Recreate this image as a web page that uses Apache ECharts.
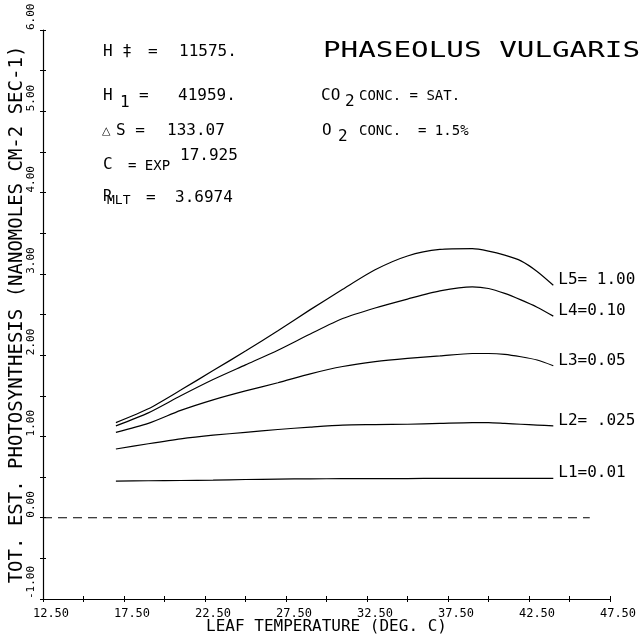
<!DOCTYPE html>
<html>
<head>
<meta charset="utf-8">
<script src="https://cdn.jsdelivr.net/npm/echarts@6/dist/echarts.min.js"></script>
<style>
  html, body { margin: 0; padding: 0; background: #fff; }
  #chart { width: 642px; height: 634px; }
</style>
</head>
<body>
<div id="chart"></div>
<script>
// ---- data ----
const temps = [17, 19, 21, 23, 25, 27, 29, 31, 33, 35, 37, 39, 40, 41, 42, 43, 44];
const L1 = [0.45, 0.455, 0.458, 0.463, 0.47, 0.475, 0.478, 0.48, 0.48, 0.482, 0.485, 0.485, 0.485, 0.485, 0.485, 0.485, 0.485];
const L2 = [0.845, 0.91, 0.97, 1.015, 1.05, 1.085, 1.115, 1.14, 1.145, 1.15, 1.16, 1.17, 1.17, 1.16, 1.15, 1.14, 1.13];
const L3 = [1.05, 1.16, 1.32, 1.45, 1.56, 1.66, 1.77, 1.86, 1.92, 1.96, 1.99, 2.02, 2.02, 2.01, 1.98, 1.94, 1.87];
const L4 = [1.13, 1.29, 1.50, 1.70, 1.88, 2.06, 2.26, 2.45, 2.58, 2.69, 2.79, 2.84, 2.82, 2.76, 2.68, 2.59, 2.48];
const L5 = [1.17, 1.34, 1.57, 1.81, 2.05, 2.30, 2.56, 2.81, 3.05, 3.22, 3.30, 3.31, 3.28, 3.23, 3.16, 3.03, 2.86];
const seriesNames = ['L1=0.01', 'L2= .025', 'L3=0.05', 'L4=0.10', 'L5= 1.00'];
const zeroX = [12.5, 46.25];
const zeroY = [0, 0];
const xTickValues = [12.5, 17.5, 22.5, 27.5, 32.5, 37.5, 42.5, 47.5];
const xTickLabels = ['12.50', '17.50', '22.50', '27.50', '32.50', '37.50', '42.50', '47.50'];
const yTickValues = [-1, 0, 1, 2, 3, 4, 5, 6];
const yTickLabels = ['-1.00', '0.00', '1.00', '2.00', '3.00', '4.00', '5.00', '6.00'];

const MONO = '"DejaVu Sans Mono", "Liberation Mono", monospace';

function pairs(xs, ys) { return xs.map((x, i) => [x, ys[i]]); }
function lookup(vals, labels, v) {
  for (let i = 0; i < vals.length; i++) if (Math.abs(vals[i] - v) < 1e-6) return labels[i];
  return '';
}

const chart = echarts.init(document.getElementById('chart'), null, { renderer: 'canvas' });

const gridBox = { left: 43, right: 32, top: 30, bottom: 35, outerBoundsMode: 'none', containLabel: false };

const lineSeries = [L1, L2, L3, L4, L5].map((vals, i) => ({
  type: 'line',
  name: seriesNames[i],
  xAxisIndex: 0, yAxisIndex: 0,
  data: pairs(temps, vals),
  showSymbol: false,
  smooth: 0.25,
  silent: true,
  lineStyle: { color: '#000', width: 1.2 },
  endLabel: {
    show: true,
    formatter: seriesNames[i],
    color: '#000',
    fontFamily: MONO,
    fontSize: 16,
    distance: 5,
    offset: [0, -5]
  }
}));

const T = (left, top, text, size, extra) => Object.assign(
  { type: 'text', left: left, top: top, style: { text: text, font: size + 'px ' + MONO, fill: '#000' } },
  extra || {}
);

const option = {
  backgroundColor: '#fff',
  animation: false,
  grid: [
    Object.assign({}, gridBox),
    Object.assign({}, gridBox)
  ],
  xAxis: [
    {
      type: 'value', gridIndex: 0, min: 12.5, max: 47.5, interval: 2.5,
      name: 'LEAF TEMPERATURE (DEG. C)', nameLocation: 'middle', nameGap: 20,
      nameMoveOverlap: false,
      nameTextStyle: { color: '#000', fontFamily: MONO, fontSize: 16 },
      axisLine: { show: true, onZero: false, lineStyle: { color: '#000', width: 1.2 } },
      axisTick: { show: true, inside: false, length: 3, lineStyle: { color: '#000' } },
      axisLabel: {
        color: '#000', fontFamily: MONO, fontSize: 12, margin: 9,
        padding: [0, 0, 0, 16],
        showMinLabel: true, showMaxLabel: true, hideOverlap: false,
        formatter: v => lookup(xTickValues, xTickLabels, v)
      },
      splitLine: { show: false }
    },
    {
      type: 'value', gridIndex: 1, min: 12.5, max: 47.5, interval: 2.5, position: 'bottom',
      axisLine: { show: false, onZero: false },
      axisTick: { show: true, inside: true, length: 3, lineStyle: { color: '#000' } },
      axisLabel: { show: false },
      splitLine: { show: false }
    }
  ],
  yAxis: [
    {
      type: 'value', gridIndex: 0, min: -1, max: 6, interval: 0.5,
      name: 'TOT. EST. PHOTOSYNTHESIS (NANOMOLES CM-2 SEC-1)',
      nameLocation: 'middle', nameRotate: 90, nameGap: 16,
      nameMoveOverlap: false,
      nameTextStyle: { color: '#000', fontFamily: MONO, fontSize: 19 },
      axisLine: { show: true, onZero: false, lineStyle: { color: '#000', width: 1.2 } },
      axisTick: { show: true, inside: false, length: 3, lineStyle: { color: '#000' } },
      axisLabel: {
        color: '#000', fontFamily: MONO, fontSize: 11, margin: 6,
        rotate: 90, align: 'left', verticalAlign: 'bottom',
        showMinLabel: true, showMaxLabel: true, hideOverlap: false,
        formatter: v => lookup(yTickValues, yTickLabels, v)
      },
      splitLine: { show: false }
    },
    {
      type: 'value', gridIndex: 1, min: -1, max: 6, interval: 0.5, position: 'left',
      axisLine: { show: false, onZero: false },
      axisTick: { show: true, inside: true, length: 3, lineStyle: { color: '#000' } },
      axisLabel: { show: false },
      splitLine: { show: false }
    }
  ],
  series: lineSeries.concat([
    {
      type: 'line', name: 'zero',
      xAxisIndex: 0, yAxisIndex: 0,
      data: pairs(zeroX, zeroY),
      showSymbol: false, silent: true,
      lineStyle: { color: '#000', width: 1.1, type: [9, 6] }
    }
  ]),
  graphic: [
    // left annotation block
    T(103, 44, 'H ‡', 16), T(148, 44, '=', 16), T(179, 44, '11575.', 16),
    T(103, 88, 'H', 16), T(120, 95, '1', 16), T(139, 88, '=', 16), T(178, 88, '41959.', 16),
    { type: 'text', left: 102, top: 126, style: { text: '△', font: '11px "DejaVu Sans"', fill: '#000' } },
    T(116, 123, 'S =', 16), T(167, 123, '133.07', 16),
    T(103, 157, 'C', 16), T(128, 159, '= EXP', 14), T(180, 148, '17.925', 16),
    T(103, 190, 'R', 15), T(107, 194, 'MLT', 13), T(146, 190, '=', 16), T(175, 190, '3.6974', 16),
    // right annotation block
    T(323, 40, 'PHASEOLUS VULGARIS', 22, { scaleX: 1.33 }),
    T(321, 88, 'CO', 16), T(345, 94, '2', 16), T(359, 89, 'CONC. = SAT.', 14),
    T(322, 123, 'O', 16), T(338, 129, '2', 16), T(359, 124, 'CONC.  = 1.5%', 14)
  ]
};

chart.setOption(option);
</script>
</body>
</html>
